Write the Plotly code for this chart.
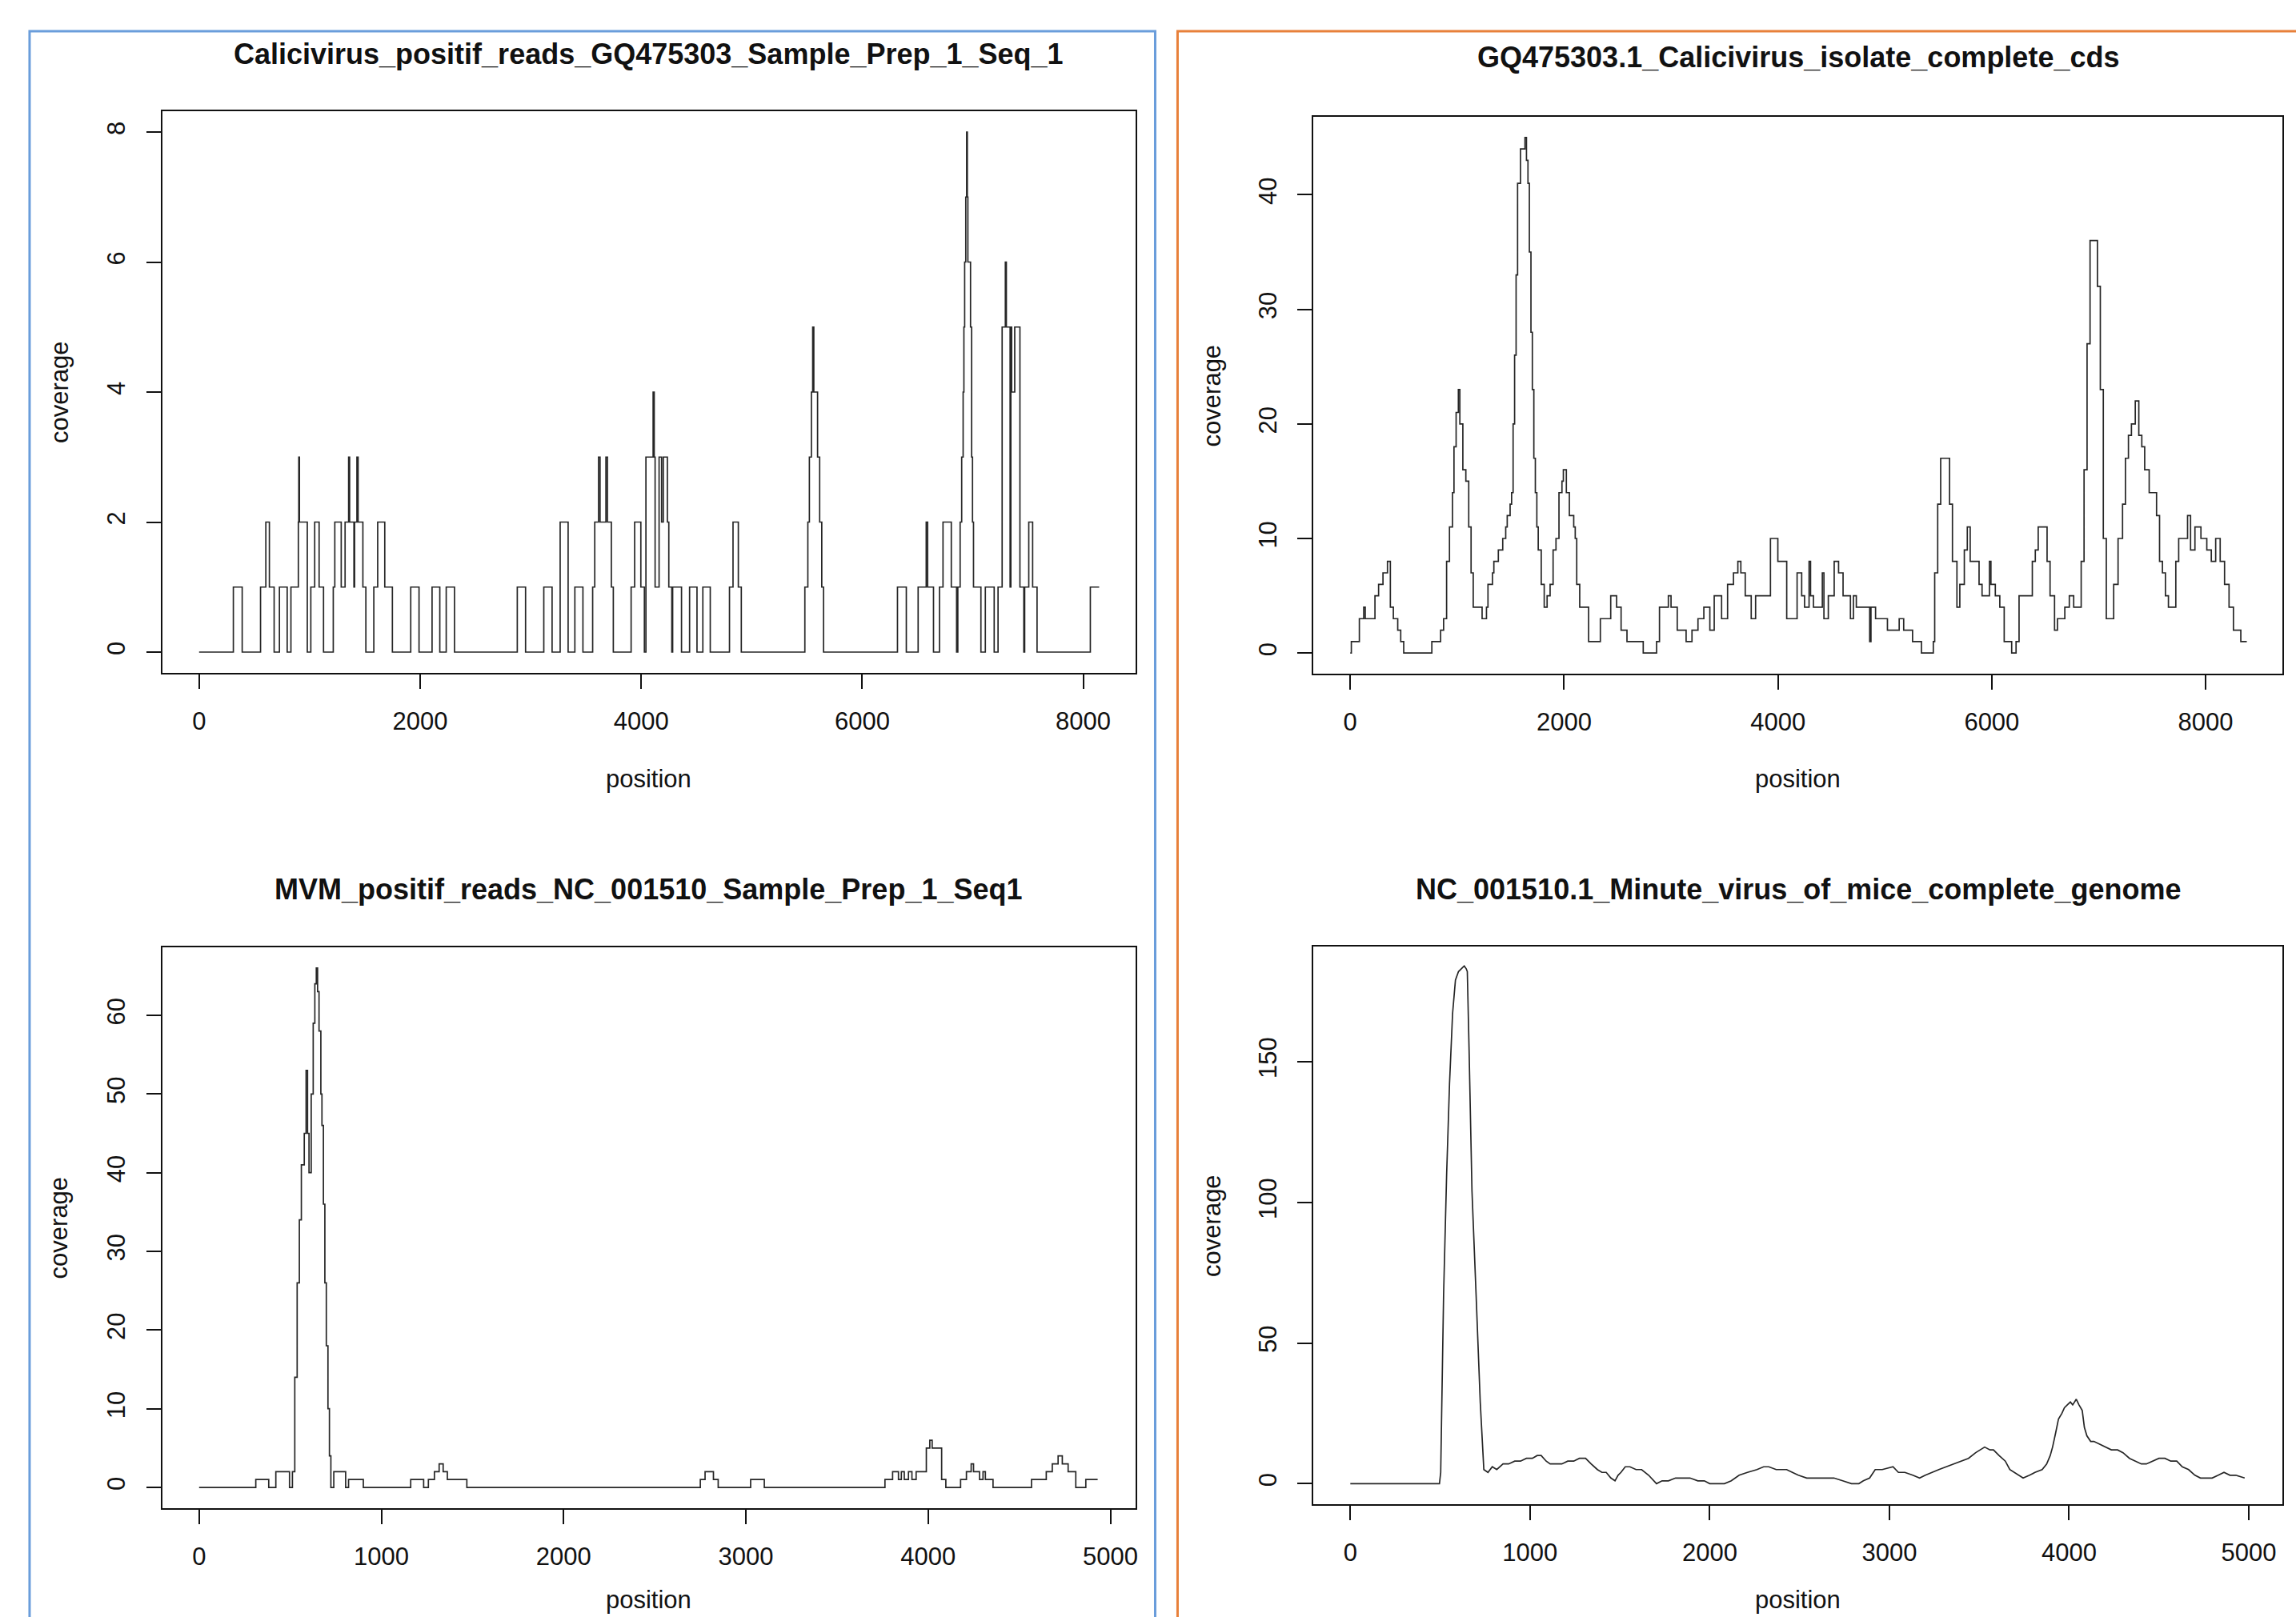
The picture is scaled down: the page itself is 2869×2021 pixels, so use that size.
import plotly.graph_objects as go

W, H = 2869, 2021

# ---------------- data ----------------
TL_TITLE = "Calicivirus_positif_reads_GQ475303_Sample_Prep_1_Seq_1"
TL_POS = [0, 310, 390, 556, 604, 636, 679, 727, 797, 831, 898, 902, 908, 979, 1011, 1046, 1086, 1126,
          1214, 1228, 1286, 1321, 1353, 1362, 1401, 1407, 1428, 1439, 1482, 1509, 1581, 1616, 1680,
          1749, 1915, 1990, 2108, 2178, 2236, 2311, 2879, 2954, 3119, 3194, 3267, 3339, 3400, 3473,
          3561, 3580, 3614, 3628, 3681, 3695, 3730, 3748, 3909, 3941, 3997, 4029, 4043, 4108, 4118,
          4126, 4162, 4185, 4200, 4237, 4250, 4277, 4285, 4365, 4438, 4505, 4558, 4625, 4799, 4831,
          4879, 4906, 5481, 5508, 5522, 5540, 5552, 5562, 5596, 5615, 5634, 5650, 6319, 6399, 6506,
          6579, 6592, 6645, 6699, 6731, 6806, 6854, 6865, 6886, 6900, 6913, 6920, 6927, 6937, 6945,
          6951, 6956, 6980, 6990, 6998, 7007, 7074, 7114, 7194, 7229, 7266, 7295, 7304, 7338, 7345,
          7352, 7380, 7427, 7462, 7470, 7507, 7542, 7582, 8064, 8144]
TL_COV = [0, 1, 0, 1, 2, 1, 0, 1, 0, 1, 2, 3, 2, 0, 1, 2, 1, 0,
          1, 2, 1, 2, 3, 2, 1, 2, 3, 2, 1, 0, 1, 2, 1,
          0, 1, 0, 1, 0, 1, 0, 1, 0, 1, 0, 2, 0, 1, 0,
          1, 2, 3, 2, 3, 2, 1, 0, 1, 2, 1, 0, 3, 4, 3,
          1, 3, 2, 3, 2, 1, 0, 1, 0, 1, 0, 1, 0, 1, 2,
          1, 0, 1, 2, 3, 4, 5, 4, 3, 2, 1, 0, 1, 0, 1,
          2, 1, 0, 1, 2, 1, 0, 1, 2, 3, 4, 5, 6, 7, 8,
          7, 6, 5, 3, 2, 1, 0, 1, 0, 1, 5, 6, 5, 1, 5,
          4, 5, 1, 0, 1, 2, 1, 0, 1, 1]

TR_TITLE = "GQ475303.1_Calicivirus_isolate_complete_cds"
TR_POS = [0, 10, 85, 126, 140, 231, 265, 306, 348, 375, 403, 444, 472, 500, 763, 845, 873, 901, 928,
          956, 970, 990, 1011, 1025, 1053, 1081, 1108, 1130, 1150, 1233, 1274, 1288, 1330, 1343, 1385,
          1426, 1454, 1468, 1495, 1509, 1523, 1537, 1551, 1565, 1592, 1620, 1634, 1648, 1662, 1675,
          1690, 1703, 1717, 1731, 1745, 1758, 1786, 1814, 1841, 1869, 1897, 1924, 1952, 1980, 1993,
          2021, 2049, 2090, 2104, 2118, 2146, 2229, 2339, 2436, 2491, 2533, 2588, 2740, 2865, 2892,
          2975, 3000, 3058, 3141, 3196, 3252, 3307, 3363, 3404, 3473, 3529, 3584, 3625, 3653, 3694,
          3750, 3791, 3930, 3999, 4082, 4179, 4222, 4249, 4291, 4305, 4332, 4415, 4430, 4471, 4526,
          4567, 4609, 4678, 4706, 4733, 4858, 4870, 4913, 5024, 5134, 5176, 5259, 5342, 5453, 5466,
          5494, 5522, 5577, 5605, 5632, 5674, 5701, 5743, 5771, 5798, 5881, 5909, 5978, 5992, 6033,
          6075, 6116, 6186, 6227, 6255, 6379, 6407, 6434, 6490, 6517, 6545, 6587, 6614, 6683, 6725,
          6766, 6836, 6863, 6891, 6919, 6960, 6988, 7015, 7043, 7071, 7140, 7181, 7223, 7250, 7278,
          7306, 7342, 7375, 7403, 7430, 7472, 7541, 7569, 7596, 7624, 7652, 7721, 7748, 7831, 7859,
          7900, 7956, 8011, 8053, 8094, 8136, 8177, 8219, 8260, 8329, 8385]
TR_COV = [0, 1, 3, 4, 3, 5, 6, 7, 8, 4, 3, 2, 1, 0, 1, 2, 3, 8, 11,
          14, 18, 21, 23, 20, 16, 15, 11, 7, 4, 3, 4, 6, 7, 8, 9,
          10, 11, 12, 13, 14, 20, 26, 33, 41, 44, 44, 45, 43, 41, 35,
          28, 23, 17, 14, 11, 9, 6, 4, 5, 6, 9, 10, 14, 15, 16,
          14, 12, 11, 10, 6, 4, 1, 3, 5, 4, 2, 1, 0, 1, 4,
          5, 4, 2, 1, 2, 3, 4, 2, 5, 3, 6, 7, 8, 7, 5,
          3, 5, 10, 8, 3, 7, 5, 4, 8, 5, 4, 7, 3, 5, 8,
          7, 5, 3, 5, 4, 1, 4, 3, 2, 3, 2, 1, 0, 1, 7,
          13, 17, 17, 13, 8, 4, 6, 9, 11, 8, 6, 5, 8, 6, 5,
          4, 1, 0, 1, 5, 8, 9, 11, 11, 8, 5, 2, 3, 4, 5,
          4, 8, 16, 27, 36, 36, 32, 23, 10, 3, 6, 10, 13, 17, 19,
          20, 22, 19, 18, 16, 14, 12, 8, 7, 5, 4, 8, 10, 12, 9,
          11, 10, 9, 8, 10, 8, 6, 4, 2, 1, 1]

BL_TITLE = "MVM_positif_reads_NC_001510_Sample_Prep_1_Seq1"
BL_POS = [0, 311, 382, 421, 496, 512, 525, 538, 550, 561, 577, 587, 595, 603, 615, 626, 635, 643,
          650, 658, 668, 674, 682, 690, 698, 707, 715, 723, 739, 804, 820, 901, 1161, 1232, 1258,
          1291, 1317, 1339, 1362, 1469, 2750, 2776, 2822, 2848, 3026, 3101, 3763, 3805, 3837, 3853,
          3869, 3892, 3911, 3934, 3990, 4009, 4022, 4074, 4097, 4178, 4210, 4236, 4249, 4282, 4301,
          4314, 4356, 4567, 4648, 4681, 4713, 4736, 4768, 4810, 4865, 4930]
BL_COV = [0, 1, 0, 2, 0, 2, 14, 26, 34, 41, 45, 53, 45, 40, 50, 59, 64, 66,
          63, 58, 50, 46, 36, 26, 18, 10, 4, 0, 2, 0, 1, 0, 1, 0, 1,
          2, 3, 2, 1, 0, 1, 2, 1, 0, 1, 0, 1, 2, 1, 2,
          1, 2, 1, 2, 5, 6, 5, 1, 0, 1, 2, 3, 2, 1, 2,
          1, 0, 1, 2, 3, 4, 3, 2, 0, 1, 1]

BR_TITLE = "NC_001510.1_Minute_virus_of_mice_complete_genome"
BR_POS = [0, 496, 503, 519, 536, 552, 569, 585, 602, 618, 634, 645, 651, 661, 677, 700, 723, 743,
          766, 790, 815, 850, 881, 915, 947, 980, 1013, 1040, 1062, 1090, 1112, 1145, 1177, 1210,
          1243, 1275, 1309, 1340, 1375, 1400, 1424, 1450, 1473, 1490, 1506, 1530, 1556, 1590, 1621,
          1660, 1704, 1735, 1770, 1810, 1852, 1890, 1934, 1970, 2000, 2040, 2082, 2120, 2164, 2210,
          2263, 2300, 2329, 2370, 2428, 2460, 2493, 2540, 2592, 2640, 2691, 2740, 2789, 2830, 2855,
          2890, 2921, 2960, 3020, 3050, 3086, 3130, 3168, 3200, 3234, 3275, 3316, 3360, 3398, 3440,
          3480, 3530, 3560, 3579, 3610, 3645, 3670, 3694, 3720, 3744, 3780, 3810, 3850, 3875, 3895,
          3908, 3925, 3941, 3960, 3974, 3990, 4007, 4020, 4040, 4055, 4073, 4085, 4099, 4120, 4138,
          4170, 4204, 4235, 4270, 4300, 4336, 4370, 4402, 4430, 4467, 4500, 4533, 4566, 4599, 4630,
          4665, 4700, 4731, 4760, 4796, 4830, 4862, 4895, 4928, 4977]
BR_COV = [0, 0, 4, 67, 110, 142, 167, 179, 182, 183, 184, 183, 182, 154, 104, 67, 29, 5,
          4, 6, 5, 7, 7, 8, 8, 9, 9, 10, 10, 8, 7, 7, 7, 8,
          8, 9, 9, 7, 5, 4, 4, 2, 1, 3, 4, 6, 6, 5, 5,
          3, 0, 1, 1, 2, 2, 2, 1, 1, 0, 0, 0, 1, 3, 4,
          5, 6, 6, 5, 5, 4, 3, 2, 2, 2, 2, 1, 0, 0, 1,
          2, 5, 5, 6, 4, 4, 3, 2, 3, 4, 5, 6, 7, 8, 9,
          11, 13, 12, 12, 10, 8, 5, 4, 3, 2, 3, 4, 5, 7, 10,
          13, 18, 23, 25, 27, 28, 29, 28, 30, 28, 26, 20, 17, 15, 15,
          14, 13, 12, 12, 11, 9, 8, 7, 7, 8, 9, 9, 8, 8, 6,
          5, 3, 2, 2, 2, 3, 4, 3, 3, 2]

X_TICKS_8K = [0, 2000, 4000, 6000, 8000]
X_TICKS_5K = [0, 1000, 2000, 3000, 4000, 5000]
TL_YTICKS = [0, 2, 4, 6, 8]
TR_YTICKS = [0, 10, 20, 30, 40]
BL_YTICKS = [0, 10, 20, 30, 40, 50, 60]
BR_YTICKS = [0, 50, 100, 150]

# ---------------- layout helpers ----------------
FONT = "Liberation Sans, Arial, Helvetica, sans-serif"
INK = "#111111"


def px_x(px):
    return px / W


def px_y(py):
    return 1 - py / H


panels = [
    # (title, pos, cov, shape, box px (l, t, r, b), xrange, yrange, xticks, yticks)
    (TL_TITLE, TL_POS, TL_COV, "hv", (203, 139, 1420, 841), [-333, 8470], [-0.32, 8.32], X_TICKS_8K, TL_YTICKS),
    (TR_TITLE, TR_POS, TR_COV, "hv", (1643, 146, 2855, 842), [-344, 8718], [-1.8, 46.8], X_TICKS_8K, TR_YTICKS),
    (BL_TITLE, BL_POS, BL_COV, "hv", (203, 1184, 1420, 1885), [-202, 5136], [-2.64, 68.64], X_TICKS_5K, BL_YTICKS),
    (BR_TITLE, BR_POS, BR_COV, "linear", (1643, 1183, 2855, 1880), [-205, 5187], [-7.3, 190.9], X_TICKS_5K, BR_YTICKS),
]
title_y = [68, 72, 1111, 1111]
cov_label_x = [74, 1516, 74, 1516]

fig = go.Figure()
annotations = []
layout = dict(
    width=W, height=H, autosize=False,
    margin=dict(l=0, r=0, t=0, b=0),
    paper_bgcolor="white", plot_bgcolor="white",
    showlegend=False,
    font=dict(family=FONT, color=INK),
)

for i, (title, pos, cov, shape, box, xr, yr, xt, yt) in enumerate(panels):
    n = "" if i == 0 else str(i + 1)
    l, t, r, b = box
    fig.add_trace(go.Scatter(
        x=pos, y=cov, mode="lines",
        line=dict(color="#262626", width=1.7, shape=shape),
        xaxis="x" + n, yaxis="y" + n, hoverinfo="skip",
    ))
    common = dict(
        showgrid=False, zeroline=False, showline=True, linecolor=INK, linewidth=2,
        mirror=True, ticks="outside", ticklen=18, tickwidth=2, tickcolor=INK,
        tickfont=dict(family=FONT, size=31, color=INK),
    )
    layout["xaxis" + n] = dict(
        common, domain=[px_x(l), px_x(r)], range=xr, tickvals=xt,
        ticktext=[str(v) for v in xt], anchor="y" + n, ticklabelstandoff=14,
    )
    layout["yaxis" + n] = dict(
        common, domain=[px_y(b), px_y(t)], range=yr, tickvals=yt,
        ticktext=[str(v) for v in yt], anchor="x" + n, tickangle=-90,
        ticklabelstandoff=14,
    )
    cx = (l + r) / 2
    annotations.append(dict(
        text="<b>" + title + "</b>", x=px_x(cx), y=px_y(title_y[i]),
        xref="paper", yref="paper", showarrow=False, xanchor="center", yanchor="middle",
        font=dict(family=FONT, size=36, color=INK),
    ))
    if i < 2:
        annotations.append(dict(
            text="position", x=px_x(cx), y=px_y(973),
            xref="paper", yref="paper", showarrow=False, xanchor="center", yanchor="middle",
            font=dict(family=FONT, size=31, color=INK),
        ))
    else:
        # bottom row: the label sits right at the lower edge of the page
        annotations.append(dict(
            text="position", x=px_x(cx), y=px_y(2019),
            xref="paper", yref="paper", showarrow=False, xanchor="center", yanchor="bottom",
            font=dict(family=FONT, size=31, color=INK),
        ))
    annotations.append(dict(
        text="coverage", x=px_x(cov_label_x[i]), y=px_y((t + b) / 2),
        xref="paper", yref="paper", showarrow=False, xanchor="center", yanchor="middle",
        textangle=-90, font=dict(family=FONT, size=31, color=INK),
    ))

layout["annotations"] = annotations
layout["shapes"] = [
    dict(type="rect", xref="paper", yref="paper", x0=px_x(37), x1=px_x(1445),
         y0=-0.05, y1=px_y(39), line=dict(color="#6a9ddb", width=3), layer="below"),
    dict(type="rect", xref="paper", yref="paper", x0=px_x(1473), x1=1.05,
         y0=-0.05, y1=px_y(39), line=dict(color="#e8803a", width=3), layer="below"),
]

fig.update_layout(**layout)
fig.write_html(
    "out.html",
    config={"displayModeBar": False},
    post_script="document.body.style.margin='0';document.body.style.padding='0';"
                "document.body.style.overflow='hidden';",
)
